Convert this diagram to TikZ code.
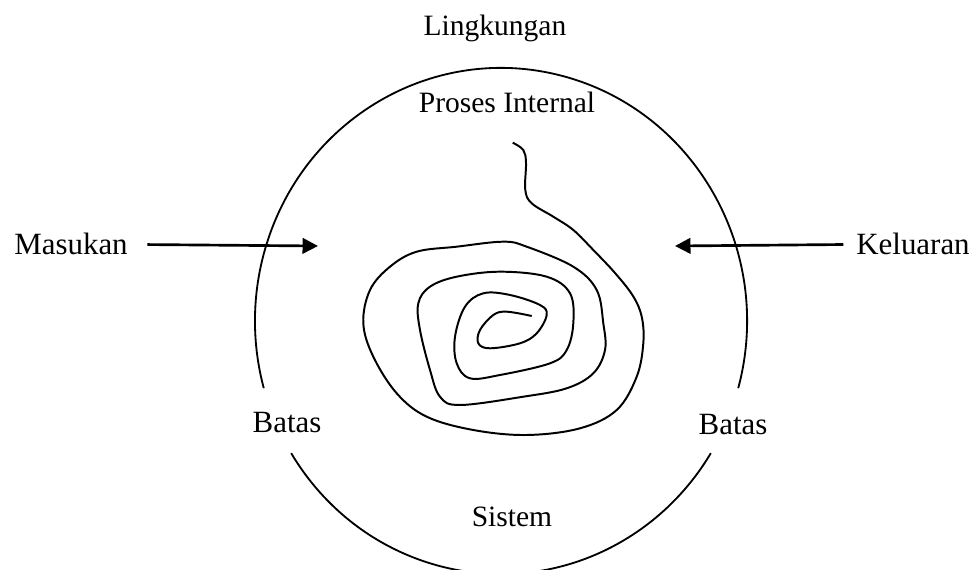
\documentclass[tikz,border=0pt]{standalone}
\usepackage{fontspec}
\setmainfont{Liberation Serif}
\usetikzlibrary{arrows.meta}

\begin{document}
\begin{tikzpicture}[x=0.025cm, y=0.025cm, line width=1.3pt,
    bigtxt/.style={font=\fontsize{22}{26}\selectfont, anchor=base, inner sep=0pt},
    smalltxt/.style={font=\fontsize{21}{25}\selectfont, anchor=base, inner sep=0pt},
    flow/.style={line width=1.9pt, -{Triangle[length=11pt,width=11pt]}}]

    \useasboundingbox (0,0) rectangle (978,570);
    \clip (0,0) rectangle (978,570);

    % --- Labels ---
    \node[smalltxt] (env)    at (495,534) {Lingkungan};
    \node[smalltxt] (proc)   at (507,457) {Proses Internal};
    \node[smalltxt] (sys)    at (512,43)  {Sistem};
    \node[bigtxt]   (in)     at (71,315)  {Masukan};
    \node[bigtxt]   (out)    at (913,315) {Keluaran};
    \node[bigtxt]   (bndL)   at (287,137) {Batas};
    \node[bigtxt]   (bndR)   at (733,135) {Batas};

    % --- System boundary (broken at the Batas labels) ---
    \coordinate (ctr) at (501,249);
    \draw (ctr) ++(-15.4:6.15cm and 6.325cm)
        arc[start angle=-15.4, end angle=195.4, x radius=6.15cm, y radius=6.325cm];
    \draw (ctr) ++(211.5:6.15cm and 6.325cm)
        arc[start angle=211.5, end angle=328.5, x radius=6.15cm, y radius=6.325cm];

    % --- Input / output arrows ---
    \coordinate (intip)  at (318,324);
    \coordinate (outtip) at (675,324);
    \draw[flow, shorten <=0.47cm] (in.east) -- (intip);
    \draw[flow, shorten <=0.3cm] (out.west) -- (outtip);

    % --- Internal process spiral ---
    \draw[line width=1.4pt] plot[smooth, tension=0.6] coordinates {
        (512.7,427.3) (523.3,420) (526,407) (525.3,380) (531.7,366.7)
        (553.3,353.3) (573.3,340) (593.3,320) (615,297) (633,274)
        (641.7,253.3) (643.3,226.7) (636.7,193.3) (616.7,160) (580,141.7)
        (526.7,135) (473.3,140) (426.7,153.3) (396.7,176.7) (373.3,213.3)
        (363.3,246.7) (370,280) (390,303.3) (416.7,318.3) (456.7,323.3)
        (503.3,328.3) (526.7,323.3) (573.3,303.3) (596.7,280) (603.3,246.7)
        (605,220) (593.3,196.7) (566.7,181.7) (523.3,173.3) (460,165)
        (440,173.3) (430,200) (420,240) (418.3,266.7) (430,283.3)
        (456.7,293.3) (500,298.3) (546.7,293.3) (570,276.7) (573.3,246.7)
        (566.7,220) (550,206.7) (500,195) (470,191.7) (456.7,206.7)
        (455,233.3) (465,263.3) (483.3,276.7) (510,275) (540,265)
        (546.7,255) (536.7,236.7) (520,226.7) (490,221.7) (478.3,226.7)
        (480,240) (493.3,255) (506.7,258.3) (531.7,254)};

\end{tikzpicture}
\end{document}
